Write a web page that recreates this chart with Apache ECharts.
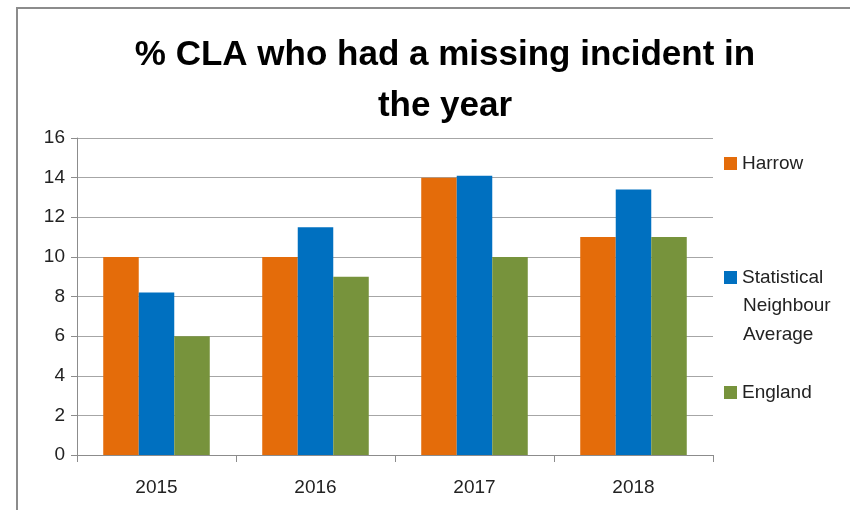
<!DOCTYPE html>
<html>
<head>
<meta charset="utf-8">
<script src="https://cdn.jsdelivr.net/npm/echarts@6/dist/echarts.min.js"></script>
<style>
  html, body { margin: 0; padding: 0; background: #fff; }
  #chart { width: 850px; height: 510px; }
</style>
</head>
<body>
<div id="chart"></div>
<script>
var years = ['2015', '2016', '2017', '2018'];
var harrow = [10, 10, 14, 11];
var neighbourAvg = [8.2, 11.5, 14.1, 13.4];
var england = [6, 9, 10, 11];
var yTicks = [0, 2, 4, 6, 8, 10, 12, 14, 16];

var chart = echarts.init(document.getElementById('chart'));
var font = '"Liberation Sans", Arial, sans-serif';
var labelColor = '#222';

var legendText = {color: labelColor, fontFamily: font, fontSize: 19};

option = {
    color: ['#E46C0A', '#0070C0', '#77933C'],
    animation: false,
    title: {
        text: '% CLA who had a missing incident in\nthe year',
        left: 440,
        textAlign: 'center',
        top: 25,
        textStyle: {
            color: '#000',
            fontFamily: font,
            fontSize: 35,
            fontWeight: 'bold',
            lineHeight: 51
        }
    },
    graphic: [
        {
            type: 'rect',
            shape: {x: 17, y: 8, width: 900, height: 600},
            style: {fill: 'none', stroke: '#8c8c8c', lineWidth: 2},
            silent: true, z: -1
        },
        {
            type: 'text', left: 743, top: 291,
            style: {text: 'Neighbour\nAverage', fill: labelColor, font: '19px ' + font, lineHeight: 29}
        }
    ],
    legend: [
        {
            orient: 'vertical', left: 724, top: 154, padding: 0,
            icon: 'rect', itemWidth: 13, itemHeight: 13,
            textStyle: legendText,
            data: ['Harrow']
        },
        {
            orient: 'vertical', left: 724, top: 268, padding: 0,
            icon: 'rect', itemWidth: 13, itemHeight: 13,
            textStyle: legendText,
            formatter: function() { return 'Statistical'; },
            data: ['Statistical Neighbour Average']
        },
        {
            orient: 'vertical', left: 724, top: 383, padding: 0,
            icon: 'rect', itemWidth: 13, itemHeight: 13,
            textStyle: legendText,
            data: ['England']
        }
    ],
    grid: {left: 77, right: 137, top: 138, bottom: 55},
    xAxis: {
        type: 'category',
        data: years,
        axisLine: {lineStyle: {color: '#8c8c8c', width: 1}},
        axisTick: {show: true, length: 7, lineStyle: {color: '#8c8c8c'}},
        axisLabel: {color: labelColor, fontFamily: font, fontSize: 19, margin: 23}
    },
    yAxis: {
        type: 'value',
        min: yTicks[0],
        max: yTicks[yTicks.length - 1],
        interval: 2,
        axisLine: {show: true, lineStyle: {color: '#8c8c8c'}},
        axisTick: {show: true, length: 6, lineStyle: {color: '#8c8c8c'}},
        axisLabel: {color: labelColor, fontFamily: font, fontSize: 19, margin: 12},
        splitLine: {lineStyle: {color: '#a6a6a6', width: 1}}
    },
    series: [
        {name: 'Harrow', type: 'bar', data: harrow, barGap: '0%', barCategoryGap: '33%'},
        {name: 'Statistical Neighbour Average', type: 'bar', data: neighbourAvg, barGap: '0%', barCategoryGap: '33%'},
        {name: 'England', type: 'bar', data: england, barGap: '0%', barCategoryGap: '33%'}
    ]
};
chart.setOption(option);
</script>
</body>
</html>
